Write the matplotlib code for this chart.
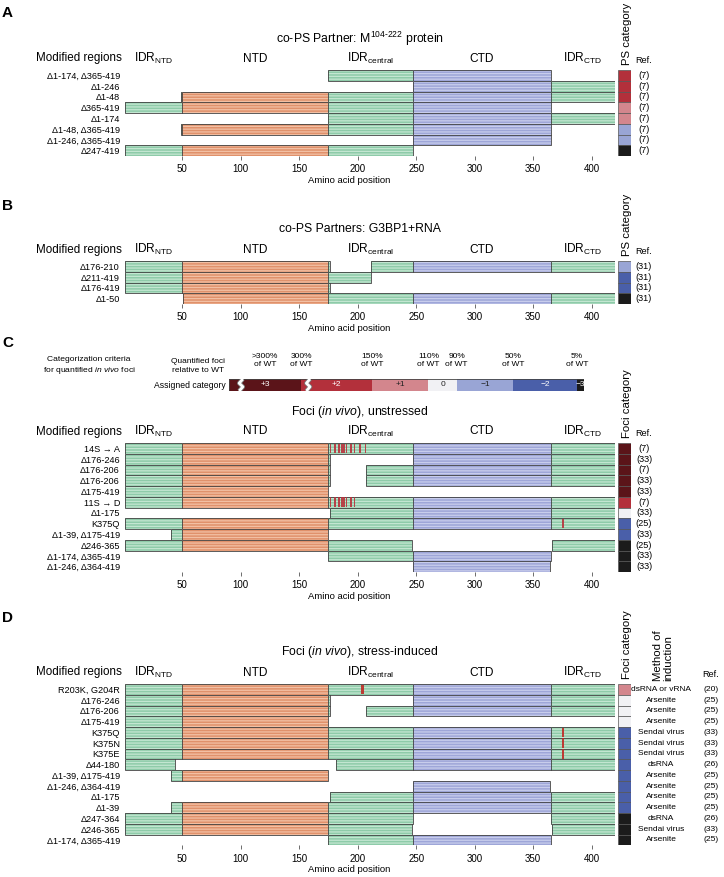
import matplotlib.pyplot as plt

plt.rcParams['font.family'] = ['Liberation Sans', 'DejaVu Sans']
plt.rcParams['mathtext.fontset'] = 'custom'
plt.rcParams['mathtext.rm'] = 'Liberation Sans'
plt.rcParams['mathtext.it'] = 'Liberation Sans:italic'
plt.rcParams['hatch.linewidth'] = 0.9

# N protein domains (residue ranges)
domain_names = ['IDR$_{\\mathrm{NTD}}$', 'NTD', 'IDR$_{\\mathrm{central}}$', 'CTD', 'IDR$_{\\mathrm{CTD}}$']
domain_ranges = [(1, 49), (50, 174), (175, 246), (247, 364), (365, 419)]
domain_colors = [('#8ecba9', '#c3e6d1'), ('#e0916b', '#f2c0a4'), ('#8ecba9', '#c3e6d1'),
                 ('#9ea6d8', '#c8cdec'), ('#8ecba9', '#c3e6d1')]

cat_colors = {3: '#5b1419', 2: '#b3303b', 1: '#d3868d', 0: '#f1f1f4',
              -1: '#99a5d5', -2: '#4a5fa9', -3: '#1b1b1b'}

# panel A
a_labels = ['\u03941-174, \u0394365-419', '\u03941-246', '\u03941-48', '\u0394365-419', '\u03941-174',
            '\u03941-48, \u0394365-419', '\u03941-246, \u0394365-419', '\u0394247-419']
a_deleted = [[(1, 174), (365, 419)], [(1, 246)], [(1, 48)], [(365, 419)], [(1, 174)],
             [(1, 48), (365, 419)], [(1, 246), (365, 419)], [(247, 419)]]
a_cats = [2, 2, 2, 1, 1, -1, -1, -3]
a_refs = [7, 7, 7, 7, 7, 7, 7, 7]

# panel B
b_labels = ['\u0394176-210', '\u0394211-419', '\u0394176-419', '\u03941-50']
b_deleted = [[(176, 210)], [(211, 419)], [(176, 419)], [(1, 50)]]
b_cats = [-1, -2, -2, -3]
b_refs = [31, 31, 31, 31]

# panel C
c_labels = ['14S \u2192 A', '\u0394176-246', '\u0394176-206', '\u0394176-206', '\u0394175-419', '11S \u2192 D',
            '\u03941-175', 'K375Q', '\u03941-39, \u0394175-419', '\u0394246-365',
            '\u03941-174, \u0394365-419', '\u03941-246, \u0394364-419']
c_deleted = [[], [(176, 246)], [(176, 206)], [(176, 206)], [(175, 419)], [], [(1, 175)], [],
             [(1, 39), (175, 419)], [(246, 365)], [(1, 174), (365, 419)], [(1, 246), (364, 419)]]
s14 = [176, 180, 183, 184, 186, 187, 188, 190, 193, 194, 197, 201, 202, 206]
s11 = [176, 180, 183, 184, 186, 187, 188, 190, 193, 194, 197]
c_marks = [s14, [], [], [], [], s11, [], [375], [], [], [], []]
c_cats = [3, 3, 3, 3, 3, 2, 0, -2, -2, -3, -3, -3]
c_refs = [7, 33, 7, 33, 33, 7, 33, 25, 33, 25, 33, 33]

# panel D
d_labels = ['R203K, G204R', '\u0394176-246', '\u0394176-206', '\u0394175-419', 'K375Q', 'K375N', 'K375E',
            '\u039444-180', '\u03941-39, \u0394175-419', '\u03941-246, \u0394364-419', '\u03941-175',
            '\u03941-39', '\u0394247-364', '\u0394246-365', '\u03941-174, \u0394365-419']
d_deleted = [[], [(176, 246)], [(176, 206)], [(175, 419)], [], [], [], [(44, 180)],
             [(1, 39), (175, 419)], [(1, 246), (364, 419)], [(1, 175)], [(1, 39)],
             [(247, 364)], [(246, 365)], [(1, 174), (365, 419)]]
d_marks = [[203, 204], [], [], [], [375], [375], [375], [], [], [], [], [], [], [], []]
d_cats = [1, 0, 0, 0, -2, -2, -2, -2, -2, -2, -2, -2, -3, -3, -3]
d_methods = ['dsRNA or vRNA', 'Arsenite', 'Arsenite', 'Arsenite', 'Sendai virus', 'Sendai virus',
             'Sendai virus', 'dsRNA', 'Arsenite', 'Arsenite', 'Arsenite', 'Arsenite', 'dsRNA',
             'Sendai virus', 'Arsenite']
d_refs = [20, 25, 25, 25, 33, 33, 33, 26, 25, 25, 25, 25, 26, 33, 25]

# categorization criteria (panel C)
crit_lower = [300, 150, 110, 90, 50, 5, 0]
crit_levels = [3, 2, 1, 0, -1, -2, -3]
crit_names = ['+3', '+2', '+1', '0', '\u22121', '\u22122', '\u22123']
crit_text_colors = ['white', 'white', '#222222', '#222222', '#222222', 'white', 'white']

W, H = 724, 877
fig = plt.figure(figsize=(7.24, 8.77), dpi=100)
X0, X1 = 125, 615
ROW = 10.75
SQ0, SQ1 = 618, 631
EDGE = '#404040'
LBL = 6.6


def fx(px):
    return px / W


def fy(py):
    return 1 - py / H


def ftext(x, y, s, **kw):
    fig.text(fx(x), fy(y), s, **kw)


def kept_segments(deleted):
    segs = [(1, 419)]
    for a, b in deleted:
        new = []
        for s, e in segs:
            if b < s or a > e:
                new.append((s, e))
                continue
            if a > s:
                new.append((s, a - 1))
            if b < e:
                new.append((b + 1, e))
        segs = new
    return segs


def panel(letter, letter_y, title, top, labels, deleted, marks, mark_color, cats, refs,
          cat_title, methods=None):
    n = len(labels)
    ax = fig.add_axes([fx(X0), fy(top + n * ROW), fx(X1) - fx(X0), n * ROW / H])
    for i, dels in enumerate(deleted):
        for s, e in kept_segments(dels):
            for (ds, de), (c, hc) in zip(domain_ranges, domain_colors):
                lo, hi = max(s, ds), min(e, de)
                if lo > hi:
                    continue
                ax.barh(i, hi + 1 - lo, left=lo, height=1, color=c, hatch='------',
                        edgecolor=hc, linewidth=0)
                ax.barh(i, hi + 1 - lo, left=lo, height=1, fill=False,
                        edgecolor=EDGE, linewidth=0.6)
        if marks is not None:
            for p in marks[i]:
                ax.barh(i, 1, left=p, height=0.9, color=mark_color, linewidth=0, alpha=0.9)
    ax.set_xlim(1, 420)
    ax.set_ylim(n - 0.5, -0.5)
    for sp in ax.spines.values():
        sp.set_visible(False)
    ax.set_xticks([50, 100, 150, 200, 250, 300, 350, 400])
    ax.tick_params(axis='x', length=3, width=0.6, color='#555555', labelsize=7, pad=3)
    ax.set_yticks(range(n))
    ax.set_yticklabels(labels, fontsize=LBL)
    ax.tick_params(axis='y', length=0, pad=3.6)
    ax.set_facecolor('none')

    head = top - 11.5
    for name, (ds, de) in zip(domain_names, domain_ranges):
        ax.text((ds + de + 1) / 2, -0.5 - 11.5 / ROW, name, ha='center', va='center', fontsize=8.6)
    ftext(122, head, 'Modified regions', ha='right', va='center', fontsize=8.4)
    ftext(360, top - 31.5, title, ha='center', va='center', fontsize=8.8)
    ftext(349, top + n * ROW + 24.5, 'Amino acid position', ha='center', va='center', fontsize=6.8)
    ftext(2, letter_y, letter, ha='left', va='center', fontsize=11, fontweight='bold')

    # category squares
    sq = fig.add_axes([fx(SQ0), fy(top + n * ROW), fx(SQ1) - fx(SQ0), n * ROW / H])
    sq.barh(range(n), 1, left=0, height=1, color=[cat_colors[c] for c in cats],
            edgecolor='#555555', linewidth=0.5)
    sq.set_xlim(0, 1)
    sq.set_ylim(n - 0.5, -0.5)
    sq.axis('off')
    ftext(627, top - 5, cat_title, rotation=90, ha='center', va='bottom', fontsize=8.2)
    ref_x = 644 if methods is None else 711
    ref_fs = LBL if methods is None else 6.1
    for i, r in enumerate(refs):
        sq.text((ref_x - SQ0) / (SQ1 - SQ0), i, '(%d)' % r, ha='center', va='center', fontsize=ref_fs)
        if methods is not None:
            sq.text((661 - SQ0) / (SQ1 - SQ0), i, methods[i], ha='center', va='center', fontsize=6.0)
    ftext(ref_x, head + 2, 'Ref.', ha='center', va='center', fontsize=6.6)
    if methods is not None:
        ftext(663, top - 3, 'Method of\ninduction', rotation=90, ha='center', va='bottom',
              fontsize=8.2, multialignment='left', linespacing=0.95)
    return ax


panel('A', 13, 'co-PS Partner: M$^{\\text{104-222}}$ protein', 70,
      a_labels, a_deleted, None, None, a_cats, a_refs, 'PS category')
panel('B', 206, 'co-PS Partners: G3BP1+RNA', 261,
      b_labels, b_deleted, None, None, b_cats, b_refs, 'PS category')
panel('C', 343, 'Foci ($\\mathit{in\\ vivo}$), unstressed', 443,
      c_labels, c_deleted, c_marks, '#b8323c', c_cats, c_refs, 'Foci category')
panel('D', 618, 'Foci ($\\mathit{in\\ vivo}$), stress-induced', 684,
      d_labels, d_deleted, d_marks, '#c02a26', d_cats, d_refs, 'Foci category', d_methods)


# categorization bar for panel C (axis broken above 150%)
def shown(p):
    return p if p <= 150 else 150 + (p - 150) / 3


OPEN_END = 251
cax = fig.add_axes([fx(229), fy(391), fx(584) - fx(229), 12 / H])
uppers = [OPEN_END] + [shown(p) for p in crit_lower[:-1]]
lowers = [shown(p) for p in crit_lower]
for up, lo, lev, name, tc in zip(uppers, lowers, crit_levels, crit_names, crit_text_colors):
    cax.barh(0, up - lo, left=lo, height=1, color=cat_colors[lev], linewidth=0)
    cax.text((up + lo) / 2, 0, name, ha='center', va='center', fontsize=6, color=tc)
cax.barh(0, OPEN_END, left=0, height=1, fill=False, edgecolor='#444444', linewidth=0.6)
for c in [242.5, 195]:
    cax.plot([c + 1.3, c - 1.3, c + 1.3, c - 1.3], [-0.5, -0.15, 0.15, 0.5], color='#777777', lw=3.2,
             solid_capstyle='butt')
    cax.plot([c + 1.3, c - 1.3, c + 1.3, c - 1.3], [-0.5, -0.15, 0.15, 0.5], color='white', lw=2.0,
             solid_capstyle='butt')
cax.set_xlim(OPEN_END, 0)
cax.set_ylim(-0.5, 0.5)
cax.axis('off')

crit_pos = [(uppers[0] + lowers[0]) / 2] + lowers[:-1]
crit_text = ['>300%'] + ['%d%%' % p for p in crit_lower[:-1]]
for pos, t in zip(crit_pos, crit_text):
    cax.text(pos, 1.4, t + '\nof WT', ha='center', va='bottom', fontsize=6, linespacing=1.2)
ftext(89, 366, 'Categorization criteria\nfor quantified $\\mathit{in\\ vivo}$ foci',
      ha='center', va='center', fontsize=6.1, linespacing=1.25)
ftext(198, 366, 'Quantified foci\nrelative to WT', ha='center', va='center', fontsize=6,
      linespacing=1.25)
ftext(226, 385, 'Assigned category', ha='right', va='center', fontsize=6.2)

fig.savefig('out.png', dpi=100)
